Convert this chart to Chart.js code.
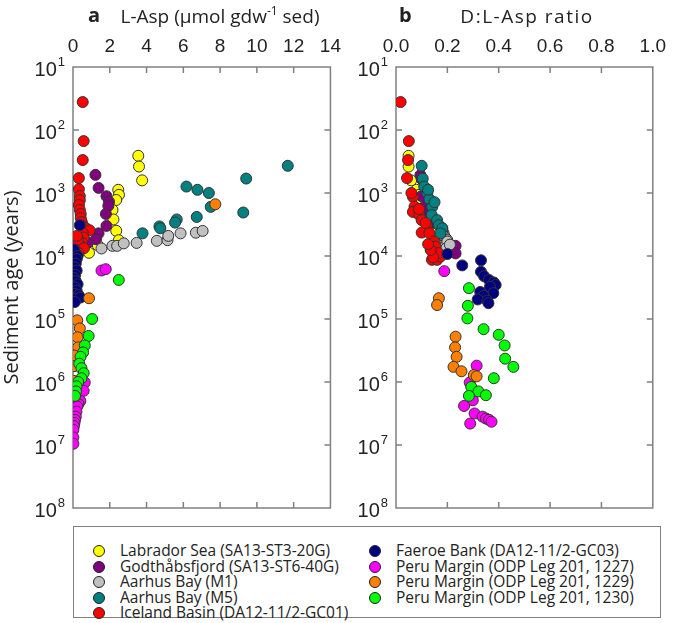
<!DOCTYPE html>
<html>
<head>
<meta charset="utf-8">
<script src="https://cdn.jsdelivr.net/npm/chart.js@4.4.1/dist/chart.umd.min.js"></script>
<style>
  body { margin: 0; background: #fff; }
  #wrap { position: relative; width: 675px; height: 623px; }
  #cA { position: absolute; left: 0; top: 0; }
  #cB { position: absolute; left: 350px; top: 0; }
  #legend { position: absolute; left: 73px; top: 526px; width: 588px; height: 92px;
            border: 1.5px solid #808080; box-sizing: border-box; }
  .item { position: absolute; height: 15.5px; line-height: 15.5px; white-space: nowrap;
          font: 15.5px 'Open Sans', 'Noto Sans', sans-serif; color: #222; }
  .dot { display: inline-block; width: 10px; height: 10px; border: 1px solid #222;
         border-radius: 50%; vertical-align: -1px; margin-right: 15px; }
</style>
</head>
<body>
<div id="wrap">
  <canvas id="cA" width="350" height="520"></canvas>
  <canvas id="cB" width="325" height="520"></canvas>
  <div id="legend"></div>
</div>
<script>
const names = ['Labrador Sea (SA13-ST3-20G)', 'Godthåbsfjord (SA13-ST6-40G)', 'Aarhus Bay (M1)',
  'Aarhus Bay (M5)', 'Iceland Basin (DA12-11/2-GC01)', 'Faeroe Bank (DA12-11/2-GC03)',
  'Peru Margin (ODP Leg 201, 1227)', 'Peru Margin (ODP Leg 201, 1229)', 'Peru Margin (ODP Leg 201, 1230)'];
const colors = ['#ffff00', '#800080', '#c0c0c0', '#008080', '#ff0000', '#000080', '#ff00ff', '#ff8000', '#00ff00'];

const laspTicks = [0, 2, 4, 6, 8, 10, 12, 14];
const ratioTicks = [0, 0.2, 0.4, 0.6, 0.8, 1.0];
const ageTicks = [1e1, 1e2, 1e3, 1e4, 1e5, 1e6, 1e7, 1e8];

// panel a: [L-Asp, age in years]
const labradorA = [[3.55, 257], [3.59, 380], [3.76, 630], [2.46, 890], [2.5, 1070], [2.35, 1290], [2.15, 1860],
  [2.2, 2630], [2.35, 3980], [2.49, 5620], [1.35, 6760], [0.87, 8900]];
const godthabA = [[1.22, 515], [1.39, 830], [1.82, 1125], [1.96, 1380], [1.92, 1600], [1.79, 2150], [1.82, 3330],
  [1.39, 4370], [1.25, 5400], [0.81, 6100]];
const aarhusM1A = [[1.55, 7600], [2.14, 6900], [2.4, 6900], [2.76, 6300], [3.46, 6200], [4.56, 5750], [5.14, 5600],
  [5.18, 4800], [5.85, 4370], [6.68, 4270], [7.05, 4000]];
const aarhusM5A = [[11.68, 370], [9.42, 590], [6.17, 790], [6.77, 890], [7.39, 1000], [7.49, 1660], [9.26, 2040],
  [6.73, 2400], [5.64, 2630], [5.55, 2950], [4.7, 3390], [4.75, 3630], [3.78, 4370]];
const icelandA = [[0.53, 36], [0.58, 150], [0.53, 300], [0.32, 580], [0.32, 870], [0.37, 1120], [0.37, 1300],
  [0.32, 1550], [0.37, 1850], [0.42, 2150], [0.42, 2500], [0.48, 2900], [0.53, 3300], [0.69, 3600], [0.9, 3900],
  [0.53, 4300], [0.58, 5100], [0.48, 6100], [0.37, 6900], [0.27, 5600], [0.21, 4800], [0.16, 8000], [0.6, 7500], [0.3, 9000]];
const faeroeA = [[0.37, 3240], [0.16, 9100], [0.05, 7900], [0.25, 10000], [0.2, 11200], [0.15, 13200], [0.1, 15100],
  [0.2, 17000], [0.12, 20000], [0.05, 22400], [0.15, 25100], [0.25, 28200], [0.1, 31600], [0.2, 35500],
  [0.08, 39800], [0.3, 41700], [0.15, 47900], [0.4, 45700], [0.1, 53700]];
const peru1227A = [[1.55, 17000], [1.78, 16200], [0.64, 1020000], [0.58, 1380000], [0.4, 2000000], [0.3, 2240000],
  [0.23, 2450000], [0.19, 2950000], [0.15, 3550000], [0.11, 3980000], [0.08, 4470000], [0.05, 5010000],
  [0.02, 5750000], [0.02, 7590000], [0.02, 9550000]];
const peru1229A = [[7.74, 1510], [0.87, 46800], [0.23, 105000], [0.37, 141000], [0.25, 195000], [0.28, 282000],
  [0.07, 380000], [0.05, 562000], [0.02, 955000]];
const peru1230A = [[2.49, 24000], [1.04, 100000], [0.85, 186000], [0.64, 263000], [0.55, 339000], [0.41, 398000],
  [0.34, 513000], [0.46, 603000], [0.58, 724000], [0.46, 871000], [0.28, 1000000], [0.19, 1170000],
  [0.16, 1410000], [0.11, 1660000]];

// panel b: [D:L-Asp ratio, age in years]
const labradorB = [[0.049, 257], [0.049, 380], [0.059, 630], [0.08, 890], [0.09, 1070], [0.1, 1290], [0.12, 1860],
  [0.14, 2630], [0.15, 3980], [0.16, 5620], [0.17, 6760], [0.175, 8900]];
const godthabB = [[0.095, 520], [0.1, 600], [0.1, 1120], [0.11, 1660], [0.12, 1900], [0.13, 2300], [0.15, 3000],
  [0.232, 6900], [0.232, 9100], [0.19, 5000]];
const aarhusM1B = [[0.18, 3630], [0.185, 4300], [0.19, 5000], [0.2, 5600], [0.195, 6300], [0.205, 6900],
  [0.19, 7100], [0.18, 4000], [0.2, 5900], [0.195, 7600], [0.21, 6600]];
const aarhusM5B = [[0.1, 370], [0.104, 590], [0.11, 790], [0.122, 1000], [0.13, 1250], [0.141, 1660], [0.139, 2240],
  [0.16, 2690], [0.167, 3240], [0.18, 3630], [0.173, 4370], [0.15, 1400], [0.125, 890]];
const icelandB = [[0.018, 36], [0.05, 150], [0.047, 300], [0.043, 580], [0.066, 1150], [0.06, 1000], [0.072, 1650],
  [0.066, 2000], [0.091, 2250], [0.1, 2700], [0.12, 3250], [0.1, 4250], [0.13, 4350], [0.115, 3000], [0.148, 5900],
  [0.154, 7100], [0.14, 11500], [0.16, 11500], [0.173, 10200], [0.165, 9000], [0.145, 10500], [0.135, 8000],
  [0.125, 6500], [0.09, 1800]];
const faeroeB = [[0.2, 9300], [0.258, 14100], [0.331, 11700], [0.331, 17800], [0.343, 20900], [0.362, 24000],
  [0.381, 26300], [0.388, 28800], [0.366, 30900], [0.379, 38900], [0.328, 37200], [0.341, 42700], [0.318, 49000],
  [0.356, 51300], [0.36, 56200]];
const peru1227B = [[0.188, 17400], [0.314, 550000], [0.287, 1020000], [0.299, 1950000], [0.265, 2400000],
  [0.306, 3160000], [0.289, 4570000], [0.337, 3550000], [0.35, 3800000], [0.362, 3980000], [0.372, 4270000]];
const peru1229B = [[0.167, 46800], [0.16, 60000], [0.232, 191000], [0.23, 282000], [0.236, 398000], [0.224, 575000],
  [0.255, 676000], [0.303, 776000], [0.314, 813000]];
const peru1230B = [[0.284, 32400], [0.28, 61700], [0.278, 97700], [0.341, 145000], [0.4, 178000], [0.423, 263000],
  [0.425, 427000], [0.457, 575000], [0.381, 871000], [0.293, 1200000], [0.321, 1410000], [0.35, 1620000],
  [0.284, 1660000]];

const tickFont = "'Liberation Sans', sans-serif";
const textFont = "'Open Sans', 'Noto Sans', sans-serif";

function makeSets(list) {
  return list.map((pts, i) => ({
    label: names[i],
    data: pts.map(p => ({ x: p[0], y: p[1] })),
    backgroundColor: colors[i],
    borderColor: '#333',
    borderWidth: 1,
    pointRadius: 5.5,
    order: -i  // later series drawn on top
  }));
}

// frame, inward ticks, 10^n labels, panel letter and title
const framePlugin = {
  id: 'frame',
  beforeDatasetsDraw(chart, args, opts) {
    const { ctx, chartArea: a, scales } = chart;
    const x = scales.x, y = scales.y;
    ctx.save();
    ctx.strokeStyle = '#808080';
    ctx.lineWidth = 1.5;
    ctx.beginPath();
    x.ticks.forEach(t => {
      const px = x.getPixelForValue(t.value);
      if (px < a.left + 2 || px > a.right - 2) return;
      ctx.moveTo(px, a.top); ctx.lineTo(px, a.top + 6);
      ctx.moveTo(px, a.bottom); ctx.lineTo(px, a.bottom - 6);
    });
    y.ticks.forEach(t => {
      const py = y.getPixelForValue(t.value);
      if (py < a.top + 2 || py > a.bottom - 2) return;
      ctx.moveTo(a.left, py); ctx.lineTo(a.left + 6, py);
      ctx.moveTo(a.right, py); ctx.lineTo(a.right - 6, py);
    });
    ctx.stroke();
    ctx.strokeRect(a.left, a.top, a.right - a.left, a.bottom - a.top);

    ctx.fillStyle = '#222';
    ctx.textAlign = 'right';
    ctx.textBaseline = 'middle';
    y.ticks.forEach(t => {
      const py = y.getPixelForValue(t.value);
      const e = String(Math.round(Math.log10(t.value)));
      ctx.font = '13px ' + tickFont;
      const ew = ctx.measureText(e).width;
      ctx.fillText(e, a.left - 8, py - 5);
      ctx.font = '20px ' + tickFont;
      ctx.fillText('10', a.left - 9 - ew, py + 3);
    });

    ctx.font = 'bold 20px ' + textFont;
    ctx.textAlign = 'left';
    ctx.fillText(opts.letter, a.left + opts.dx, 16);

    // title pieces: [text, superscript?]
    ctx.font = '19px ' + textFont;
    ctx.letterSpacing = opts.spacing;
    let w = 0;
    opts.title.forEach(p => {
      ctx.font = (p[1] ? '12px ' : '19px ') + textFont;
      w += ctx.measureText(p[0]).width;
    });
    let tx = opts.cx - w / 2;
    opts.title.forEach(p => {
      ctx.font = (p[1] ? '12px ' : '19px ') + textFont;
      ctx.fillText(p[0], tx, p[1] ? 12 : 18);
      tx += ctx.measureText(p[0]).width;
    });
    ctx.restore();
  }
};

function makeChart(id, sets, xTicks, fmt, title, spacing, cx, letter, dx, yTitle, yWidth, padRight) {
  return new Chart(document.getElementById(id), {
    type: 'scatter',
    data: { datasets: sets },
    options: {
      responsive: false,
      animation: false,
      layout: { padding: { left: 0, top: 0, right: padRight, bottom: 12 } },
      plugins: {
        legend: { display: false },
        tooltip: { enabled: false },
        frame: { letter: letter, dx: dx, title: title, spacing: spacing, cx: cx }
      },
      scales: {
        x: {
          type: 'linear',
          position: 'top',
          min: xTicks[0],
          max: xTicks[xTicks.length - 1],
          afterBuildTicks: s => { s.ticks = xTicks.map(v => ({ value: v })); },
          afterFit: s => { s.height = 67; },
          grid: { display: false, drawTicks: false },
          border: { display: false },
          ticks: { font: { size: 19, family: tickFont }, color: '#222', padding: 9, maxRotation: 0, callback: fmt }
        },
        y: {
          type: 'logarithmic',
          reverse: true,
          min: 1e1,
          max: 1e8,
          afterBuildTicks: s => { s.ticks = ageTicks.map(v => ({ value: v })); },
          afterFit: s => { s.width = yWidth; },
          grid: { display: false },
          border: { display: false },
          ticks: { display: false },
          title: { display: yTitle, text: 'Sediment age (years)', color: '#222', font: { size: 20, family: textFont }, padding: { top: 0, bottom: 0 } }
        }
      }
    },
    plugins: [framePlugin]
  });
}

const chartA = makeChart('cA',
  makeSets([labradorA, godthabA, aarhusM1A, aarhusM5A, icelandA, faeroeA, peru1227A, peru1229A, peru1230A]),
  laspTicks, v => String(v),
  [['L-Asp (µmol gdw', false], ['-1', true], [' sed)', false]], '0px', 220,
  'a', 15, true, 73, 13);
const chartB = makeChart('cB',
  makeSets([labradorB, godthabB, aarhusM1B, aarhusM5B, icelandB, faeroeB, peru1227B, peru1229B, peru1230B]),
  ratioTicks, v => v.toFixed(1),
  [['D:L-Asp ratio', false]], '1.5px', 177,
  'b', 3, false, 46, 15);

// legend in two columns, built from the chart's datasets
const legend = document.getElementById('legend');
chartA.data.datasets.forEach((ds, i) => {
  const row = document.createElement('div');
  row.className = 'item';
  row.style.left = (i < 5 ? 19 : 295) + 'px';
  row.style.top = (12 + (i % 5) * 15.5) + 'px';
  row.innerHTML = '<span class="dot" style="background:' + ds.backgroundColor + '"></span>' + ds.label;
  legend.appendChild(row);
});
</script>
</body>
</html>
